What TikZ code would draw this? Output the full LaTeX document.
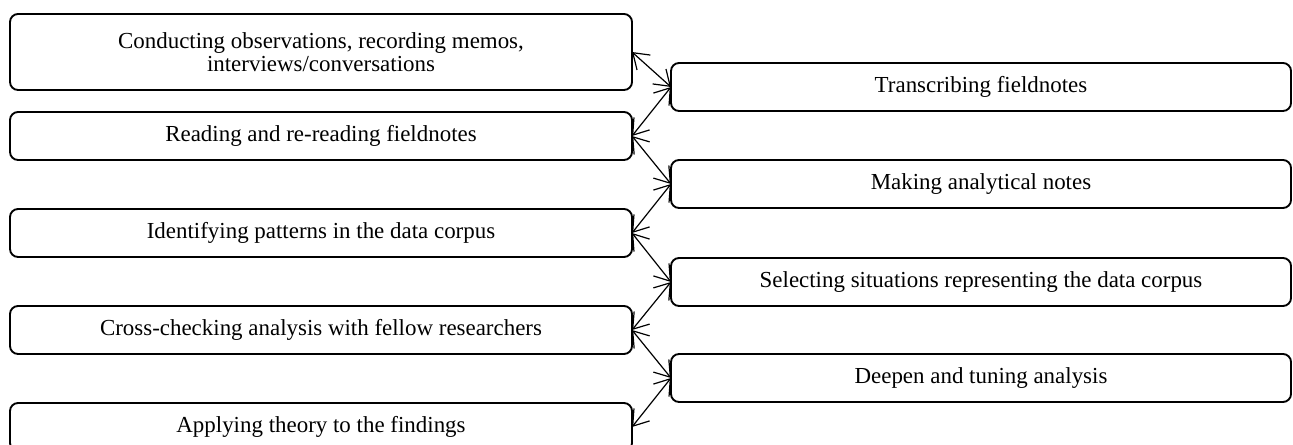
\documentclass[tikz,border=0pt]{standalone}
\usepackage{fontspec}
\setmainfont{Liberation Serif}
\usetikzlibrary{arrows.meta}
\begin{document}
\begin{tikzpicture}[x=0.75pt,y=-0.75pt,
  box/.style={draw, line width=1.4pt, rounded corners=6pt, inner sep=0pt, outer sep=0pt,
    align=center, font=\fontsize{17.2}{17.5}\selectfont},
  lbox/.style={box, minimum width=466.5pt, minimum height=36pt},
  rbox/.style={box, minimum width=465pt, minimum height=36pt},
  barb/.tip={Straight Barb[length=11pt,width=15pt]},
  link/.style={line width=0.9pt, barb-barb}]
\useasboundingbox (0,0) rectangle (1293,445);
\clip (0,0) rectangle (1293,445);
\node[lbox, minimum height=57pt] (l1) at (321,52) {Conducting observations, recording memos,\\interviews/conversations};
\node[lbox] (l2) at (321,136) {Reading and re-reading fieldnotes};
\node[lbox] (l3) at (321,233) {Identifying patterns in the data corpus};
\node[lbox] (l4) at (321,330) {Cross-checking analysis with fellow researchers};
\node[lbox] (l5) at (321,427) {Applying theory to the findings};
\node[rbox] (r1) at (981,87) {Transcribing fieldnotes};
\node[rbox] (r2) at (981,184) {Making analytical notes};
\node[rbox] (r3) at (981,282) {Selecting situations representing the data corpus};
\node[rbox] (r4) at (981,378) {Deepen and tuning analysis};
\draw[link] (l1.east) -- (r1.west);
\draw[link] (r1.west) -- (l2.east);
\draw[link] (l2.east) -- (r2.west);
\draw[link] (r2.west) -- (l3.east);
\draw[link] (l3.east) -- (r3.west);
\draw[link] (r3.west) -- (l4.east);
\draw[link] (l4.east) -- (r4.west);
\draw[link] (r4.west) -- (l5.east);
\end{tikzpicture}
\end{document}
